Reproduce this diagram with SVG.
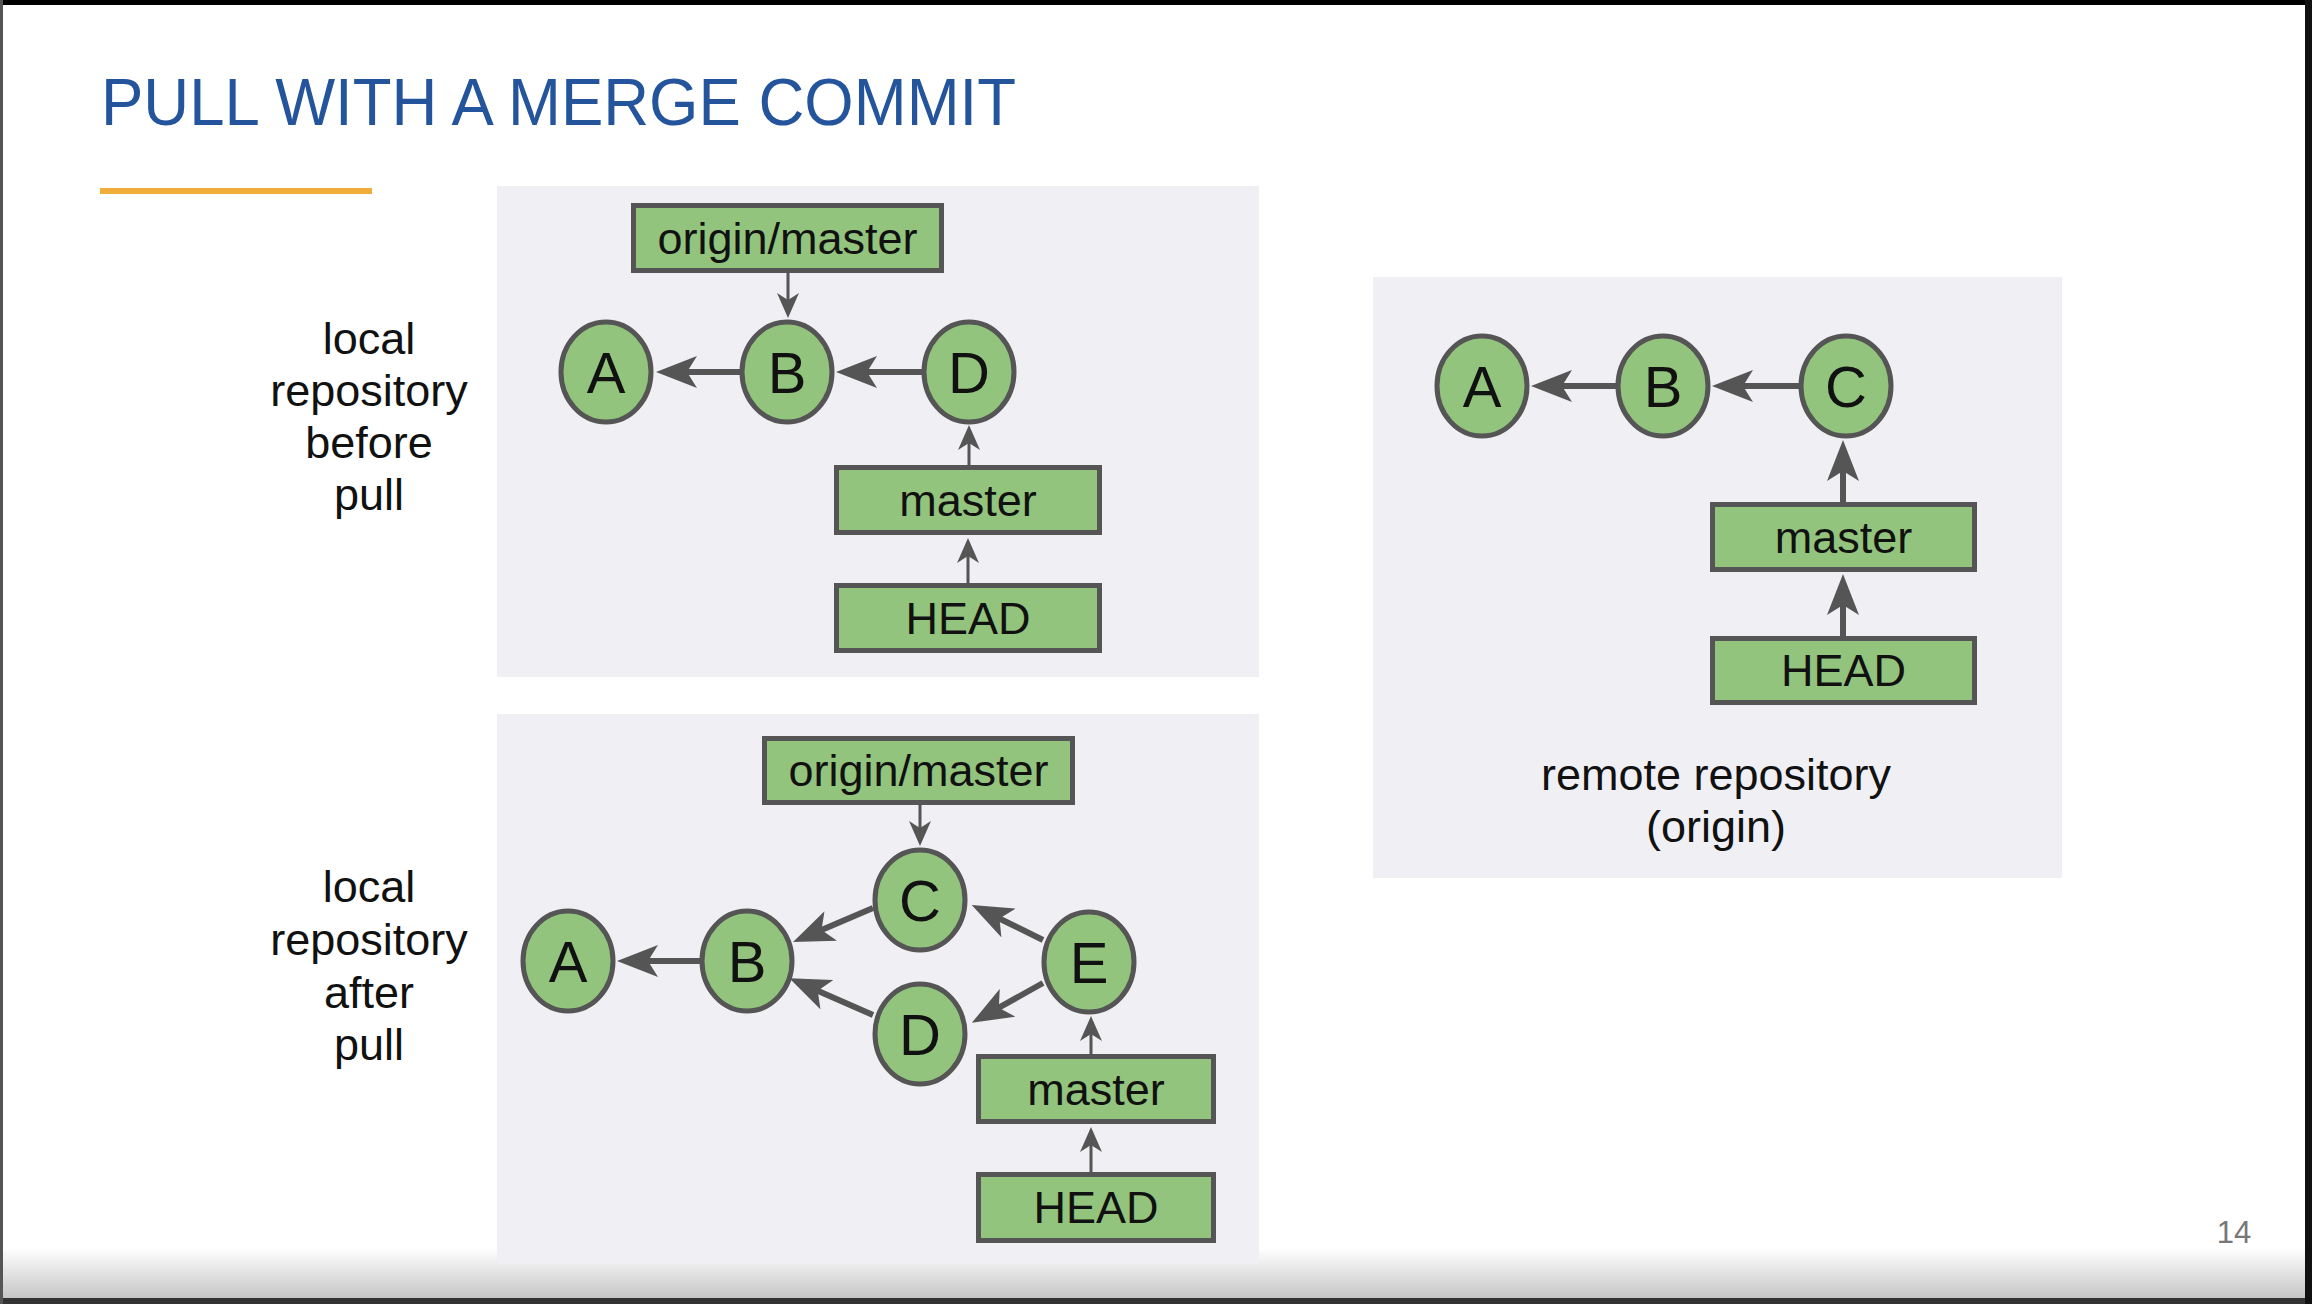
<svg xmlns="http://www.w3.org/2000/svg" width="2312" height="1304" viewBox="0 0 2312 1304">
<defs>
<style>
.panel{fill:#f0f0f4}
.commit{fill:#93c47d;stroke:#555;stroke-width:5}
.ref{fill:#93c47d;stroke:#555;stroke-width:5}
.lt{font-family:"Liberation Sans",Arial,sans-serif;font-size:58px;fill:#111;text-anchor:middle}
.bt{font-family:"Liberation Sans",Arial,sans-serif;font-size:45px;fill:#111;text-anchor:middle}
.lbl{font-family:"Liberation Sans",Arial,sans-serif;font-size:45px;fill:#111;text-anchor:middle}
.thick{stroke:#555;stroke-width:6;fill:none;marker-end:url(#ahThick)}
.thin{stroke:#555;stroke-width:3;fill:none;marker-end:url(#ahThin)}
</style>
<marker id="ahThick" markerUnits="userSpaceOnUse" viewBox="0 0 41 32" markerWidth="41" markerHeight="32" refX="12" refY="16" orient="auto">
<path d="M41,16 L0,0 L10,16 L0,32 Z" fill="#555"/>
</marker>
<marker id="ahThin" markerUnits="userSpaceOnUse" viewBox="0 0 25 22" markerWidth="25" markerHeight="22" refX="8" refY="11" orient="auto">
<path d="M25,11 L0,0 L7,11 L0,22 Z" fill="#555"/>
</marker>
<linearGradient id="bottomShade" x1="0" y1="0" x2="0" y2="1">
<stop offset="0" stop-color="#ffffff"/>
<stop offset="1" stop-color="#c6c6c6"/>
</linearGradient>
</defs>

<rect x="0" y="0" width="2312" height="1304" fill="#ffffff"/>
<rect x="0" y="1248" width="2312" height="50" fill="url(#bottomShade)"/>
<rect x="0" y="1298" width="2312" height="6" fill="#333"/>
<rect x="0" y="0" width="2312" height="5" fill="#000"/>
<rect x="2305" y="0" width="7" height="1304" fill="#111"/>
<rect x="0" y="0" width="3" height="1304" fill="#555"/>

<g id="title">
<text x="101" y="125" font-family="'Liberation Sans',Arial,sans-serif" font-size="66" fill="#24549c" textLength="915" lengthAdjust="spacingAndGlyphs">PULL WITH A MERGE COMMIT</text>
<rect x="100" y="188" width="272" height="6" fill="#f0ad3a"/>
</g>

<g id="panels">
<rect class="panel" x="497" y="186" width="762" height="491"/>
<rect class="panel" x="497" y="714" width="762" height="550"/>
<rect class="panel" x="1373" y="277" width="689" height="601"/>
</g>

<g id="label-before">
<text class="lbl" x="369" y="354">local</text>
<text class="lbl" x="369" y="406">repository</text>
<text class="lbl" x="369" y="458">before</text>
<text class="lbl" x="369" y="510">pull</text>
</g>
<g id="label-after">
<text class="lbl" x="369" y="902">local</text>
<text class="lbl" x="369" y="955">repository</text>
<text class="lbl" x="369" y="1008">after</text>
<text class="lbl" x="369" y="1060">pull</text>
</g>
<g id="label-remote">
<text class="lbl" x="1716" y="790">remote repository</text>
<text class="lbl" x="1716" y="842">(origin)</text>
</g>

<g id="connectors">
<line class="thin" x1="788" y1="273" x2="788" y2="301"/>
<line class="thin" x1="969" y1="465" x2="969" y2="442"/>
<line class="thin" x1="968" y1="583" x2="968" y2="555"/>
<line class="thick" x1="740" y1="372" x2="685" y2="372"/>
<line class="thick" x1="922" y1="372" x2="865" y2="372"/>

<line class="thin" x1="920" y1="805" x2="920" y2="829"/>
<line class="thin" x1="1091" y1="1054" x2="1091" y2="1033"/>
<line class="thin" x1="1091" y1="1172" x2="1091" y2="1144"/>
<line class="thick" x1="700" y1="961" x2="646" y2="961"/>
<line class="thick" x1="873" y1="908" x2="819.7" y2="930.7"/>
<line class="thick" x1="1043" y1="940" x2="997.7" y2="917.7"/>
<line class="thick" x1="1043" y1="983" x2="997.1" y2="1008.7"/>
<line class="thick" x1="873" y1="1015" x2="815.9" y2="989.9"/>

<line class="thick" x1="1616" y1="386" x2="1560" y2="386"/>
<line class="thick" x1="1799" y1="386" x2="1741" y2="386"/>
<line class="thick" x1="1843" y1="502" x2="1843" y2="469"/>
<line class="thick" x1="1843" y1="636" x2="1843" y2="603"/>
</g>

<g id="p1-origin-master"><rect class="ref" x="633.5" y="205.5" width="308" height="65"/><text class="bt" x="787.5" y="254">origin/master</text></g>
<g id="p1-A"><ellipse class="commit" cx="606" cy="372" rx="45" ry="50"/><text class="lt" x="606" y="393">A</text></g>
<g id="p1-B"><ellipse class="commit" cx="787" cy="372" rx="45" ry="50"/><text class="lt" x="787" y="393">B</text></g>
<g id="p1-D"><ellipse class="commit" cx="969" cy="372" rx="45" ry="50"/><text class="lt" x="969" y="393">D</text></g>
<g id="p1-master"><rect class="ref" x="836.5" y="467.5" width="263" height="65"/><text class="bt" x="968" y="516">master</text></g>
<g id="p1-HEAD"><rect class="ref" x="836.5" y="585.5" width="263" height="65"/><text class="bt" x="968" y="634">HEAD</text></g>

<g id="p2-origin-master"><rect class="ref" x="764.5" y="738.5" width="308" height="64"/><text class="bt" x="918.5" y="786">origin/master</text></g>
<g id="p2-A"><ellipse class="commit" cx="568" cy="961" rx="45" ry="50"/><text class="lt" x="568" y="982">A</text></g>
<g id="p2-B"><ellipse class="commit" cx="747" cy="961" rx="45" ry="50"/><text class="lt" x="747" y="982">B</text></g>
<g id="p2-C"><ellipse class="commit" cx="920" cy="900" rx="45" ry="50"/><text class="lt" x="920" y="921">C</text></g>
<g id="p2-D"><ellipse class="commit" cx="920" cy="1034" rx="45" ry="50"/><text class="lt" x="920" y="1055">D</text></g>
<g id="p2-E"><ellipse class="commit" cx="1089" cy="962" rx="45" ry="50"/><text class="lt" x="1089" y="983">E</text></g>
<g id="p2-master"><rect class="ref" x="978.5" y="1056.5" width="235" height="65"/><text class="bt" x="1096" y="1105">master</text></g>
<g id="p2-HEAD"><rect class="ref" x="978.5" y="1174.5" width="235" height="66"/><text class="bt" x="1096" y="1223">HEAD</text></g>

<g id="p3-A"><ellipse class="commit" cx="1482" cy="386" rx="45" ry="50"/><text class="lt" x="1482" y="407">A</text></g>
<g id="p3-B"><ellipse class="commit" cx="1663" cy="386" rx="45" ry="50"/><text class="lt" x="1663" y="407">B</text></g>
<g id="p3-C"><ellipse class="commit" cx="1846" cy="386" rx="45" ry="50"/><text class="lt" x="1846" y="407">C</text></g>
<g id="p3-master"><rect class="ref" x="1712.5" y="504.5" width="262" height="65"/><text class="bt" x="1843.5" y="553">master</text></g>
<g id="p3-HEAD"><rect class="ref" x="1712.5" y="638.5" width="262" height="64"/><text class="bt" x="1843.5" y="686">HEAD</text></g>

<text x="2234" y="1243" font-family="'Liberation Sans',Arial,sans-serif" font-size="31" fill="#777" text-anchor="middle">14</text>
</svg>
